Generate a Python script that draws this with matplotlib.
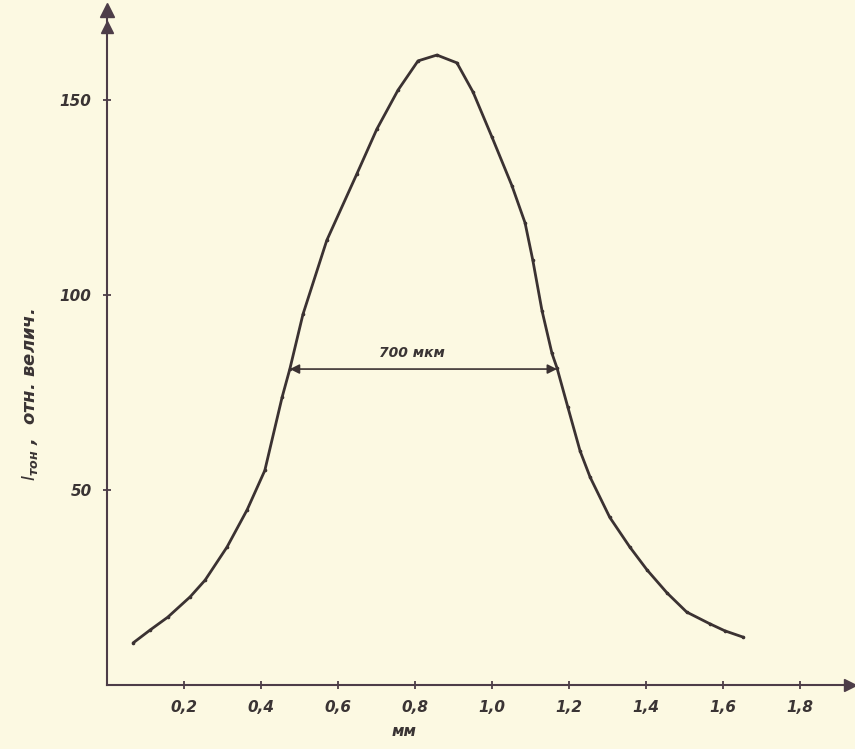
import matplotlib
matplotlib.use("Agg")
import matplotlib.pyplot as plt

x_mm = [0.068, 0.112, 0.158, 0.216, 0.255, 0.312, 0.364, 0.410, 0.455, 0.475,
        0.509, 0.571, 0.649, 0.701, 0.756, 0.808, 0.857, 0.909, 0.951, 1.000,
        1.052, 1.086, 1.106, 1.130, 1.156, 1.169, 1.197, 1.229, 1.255, 1.306,
        1.358, 1.403, 1.455, 1.506, 1.566, 1.605, 1.652]
intensity = [10.8, 14.1, 17.4, 22.6, 26.9, 35.4, 44.9, 55.0, 73.8, 81.0,
             95.0, 114.0, 131.0, 142.5, 152.5, 160.0, 161.5, 159.5, 152.0, 140.5,
             128.0, 118.5, 109.0, 96.0, 85.0, 81.3, 71.3, 60.0, 53.3, 43.0,
             35.4, 29.5, 23.6, 18.7, 15.7, 13.9, 12.3]

x_ticks = [0.2, 0.4, 0.6, 0.8, 1.0, 1.2, 1.4, 1.6, 1.8]
x_tick_labels = ["0,2", "0,4", "0,6", "0,8", "1,0", "1,2", "1,4", "1,6", "1,8"]
y_ticks = [50, 100, 150]

fwhm_left, fwhm_right, half_level = 0.475, 1.169, 81.0
fwhm_text = "700 мкм"

PAPER = "#fcf9e2"
INK = "#3b3232"
AXIS = "#4d3d48"
font = dict(family="DejaVu Sans", style="italic", fontweight="bold", color="#3a3434")

fig = plt.figure(figsize=(8.55, 7.49), dpi=100, facecolor=PAPER)
ax = fig.add_axes([0.1251, 0.0854, 0.869, 0.901])
ax.set_facecolor(PAPER)

ax.plot(x_mm, intensity, color=INK, linewidth=2.0, marker="o", markersize=1.6,
        solid_joinstyle="round", solid_capstyle="round")

# FWHM double arrow
ax.annotate("", xy=(fwhm_left, half_level), xytext=(fwhm_right, half_level),
            arrowprops=dict(arrowstyle="<|-|>", color=INK, lw=1.2,
                            mutation_scale=14, shrinkA=0, shrinkB=0))
ax.text((fwhm_left + fwhm_right) / 2 - 0.03, half_level + 2.2, fwhm_text,
        ha="center", va="bottom", fontsize=10, **font)

ax.set_xlim(0, 1.93)
ax.set_ylim(0, 173)
for side in ["top", "right"]:
    ax.spines[side].set_visible(False)
for side in ["left", "bottom"]:
    ax.spines[side].set_color(AXIS)
    ax.spines[side].set_linewidth(1.5)

# arrowheads at axis ends
ax.plot(1, 0, ">", color=AXIS, markersize=9, transform=ax.transAxes, clip_on=False)
ax.plot(0, 1, "^", color=AXIS, markersize=10, transform=ax.transAxes, clip_on=False)
ax.plot(0, 0.975, "^", color=AXIS, markersize=9, transform=ax.transAxes, clip_on=False)

ax.set_xticks(x_ticks)
ax.set_xticklabels(x_tick_labels)
ax.set_yticks(y_ticks)
ax.tick_params(direction="inout", length=6, width=1.3, color=AXIS, pad=8)
for lab in ax.get_xticklabels() + ax.get_yticklabels():
    lab.set_fontsize(11)
    lab.set_fontstyle("italic")
    lab.set_fontweight("bold")
    lab.set_color("#3a3434")

ax.set_xlabel("мм", fontsize=11, **font)
ax.xaxis.set_label_coords(0.40, -0.058)
ax.set_ylabel(r"$I_{\mathregular{тон}}$ ,  отн. велич.", fontsize=13, **font)
ax.yaxis.set_label_coords(-0.09, 0.43)

fig.savefig("out.png", dpi=100, facecolor=PAPER)
